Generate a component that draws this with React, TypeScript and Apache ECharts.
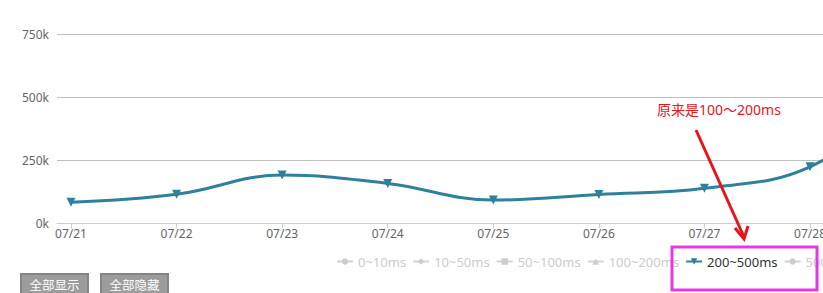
import React, { useEffect, useRef } from "react";
import * as echarts from "echarts";

const categories = ["07/21", "07/22", "07/23", "07/24", "07/25", "07/26", "07/27", "07/28", "07/29"];
const seriesNames = ["0~10ms", "10~50ms", "50~100ms", "100~200ms", "200~500ms", "500~1000ms"];
const seriesSymbols = ["circle", "diamond", "rect", "triangle", "triangle", "circle"];
const seriesRotations = [0, 0, 0, 0, 180, 0];
const activeSeries = "200~500ms";
const values200to500 = [82000, 114000, 190000, 157000, 91000, 113000, 138000, 223000, 520000];
const yMin = 0;
const yMax = 750000;
const yInterval = 250000;
const annotationText = "原来是100～200ms";
const buttonLabels = ["全部显示", "全部隐藏"];

const FONT = '"Noto Sans", "Noto Sans CJK SC", sans-serif';

export default function App() {
  const ref = useRef<HTMLDivElement>(null);

  useEffect(() => {
    if (!ref.current) return;
    const chart = echarts.init(ref.current, null, { renderer: "svg" });
    const idx = categories.map((_, i) => i);
    const selected: Record<string, boolean> = {};
    seriesNames.forEach((n) => (selected[n] = n === activeSeries));

    const series = seriesNames.map((name, i) => ({
      name,
      type: "line",
      smooth: 0.4,
      symbol: seriesSymbols[i],
      symbolRotate: seriesRotations[i],
      symbolSize: 9,
      showSymbol: true,
      lineStyle: { width: 3, color: "#2e809c" },
      itemStyle: { color: "#2e809c" },
      emphasis: { disabled: true },
      data: name === activeSeries ? values200to500.map((v, k) => [k, v]) : [],
    }));

    const buttons = buttonLabels.map((label, i) => ({
      type: "group",
      x: 21 + i * 80,
      y: 274,
      children: [
        {
          type: "rect",
          shape: { x: 0, y: 0, width: 67, height: 22 },
          style: { fill: "#9c9c9c", stroke: "#858585", lineWidth: 2 },
        },
        {
          type: "text",
          x: 33.5,
          y: 11,
          style: {
            text: label,
            fill: "#ffffff",
            fontSize: 12.5,
            fontFamily: FONT,
            align: "center",
            verticalAlign: "middle",
          },
        },
      ],
    }));

    chart.setOption({
      animation: false,
      textStyle: { fontFamily: FONT },
      grid: { left: 57, top: 34, bottom: 70, right: 70.4 },
      xAxis: {
        type: "value",
        min: -0.1326,
        max: categories.length - 1 + 0.1326,
        splitLine: { show: false },
        axisLine: { show: true, lineStyle: { color: "#C0D0E0", width: 1 } },
        axisTick: {
          show: true,
          length: 5,
          customValues: idx,
          lineStyle: { color: "#C0D0E0" },
        },
        axisLabel: {
          customValues: idx,
          formatter: (v: number) => categories[Math.round(v)] ?? "",
          color: "#666666",
          fontSize: 12,
          margin: 4,
          fontFamily: FONT,
        },
      },
      yAxis: {
        type: "value",
        min: yMin,
        max: yMax,
        interval: yInterval,
        axisLine: { show: false },
        axisTick: { show: false },
        splitLine: { lineStyle: { color: "#C0C0C0", width: 1 } },
        axisLabel: {
          formatter: (v: number) => `${v / 1000}k`,
          color: "#666666",
          fontSize: 12,
          margin: 8,
          fontFamily: FONT,
        },
      },
      legend: {
        left: 331,
        top: 250,
        itemWidth: 16,
        itemHeight: 8,
        itemGap: 6,
        selected,
        inactiveColor: "#cccccc",
        inactiveBorderColor: "#cccccc",
        textStyle: { fontSize: 13, color: "#333333", fontFamily: FONT },
        data: seriesNames,
      },
      series,
      graphic: [
        ...buttons,
        {
          type: "text",
          x: 657,
          y: 109,
          z: 100,
          style: {
            text: annotationText,
            fill: "#e8141a",
            fontSize: 14,
            fontFamily: FONT,
            align: "left",
            verticalAlign: "middle",
          },
        },
        {
          type: "line",
          z: 100,
          shape: { x1: 696, y1: 130, x2: 744, y2: 237 },
          style: { stroke: "#e8141a", lineWidth: 3 },
        },
        {
          type: "polyline",
          z: 100,
          shape: { points: [[735, 228], [744, 239], [748, 226]] },
          style: { stroke: "#e8141a", lineWidth: 3, fill: "none" },
        },
        {
          type: "rect",
          z: 100,
          shape: { x: 672, y: 247, width: 145, height: 43 },
          style: { fill: "none", stroke: "#e23be6", lineWidth: 3 },
        },
      ],
    });

    return () => chart.dispose();
  }, []);

  return (
    <div
      style={{
        position: "fixed",
        left: 0,
        top: 0,
        width: 823,
        height: 293,
        overflow: "hidden",
        background: "#ffffff",
      }}
    >
      <div ref={ref} style={{ width: 1000, height: 293 }} />
    </div>
  );
}
